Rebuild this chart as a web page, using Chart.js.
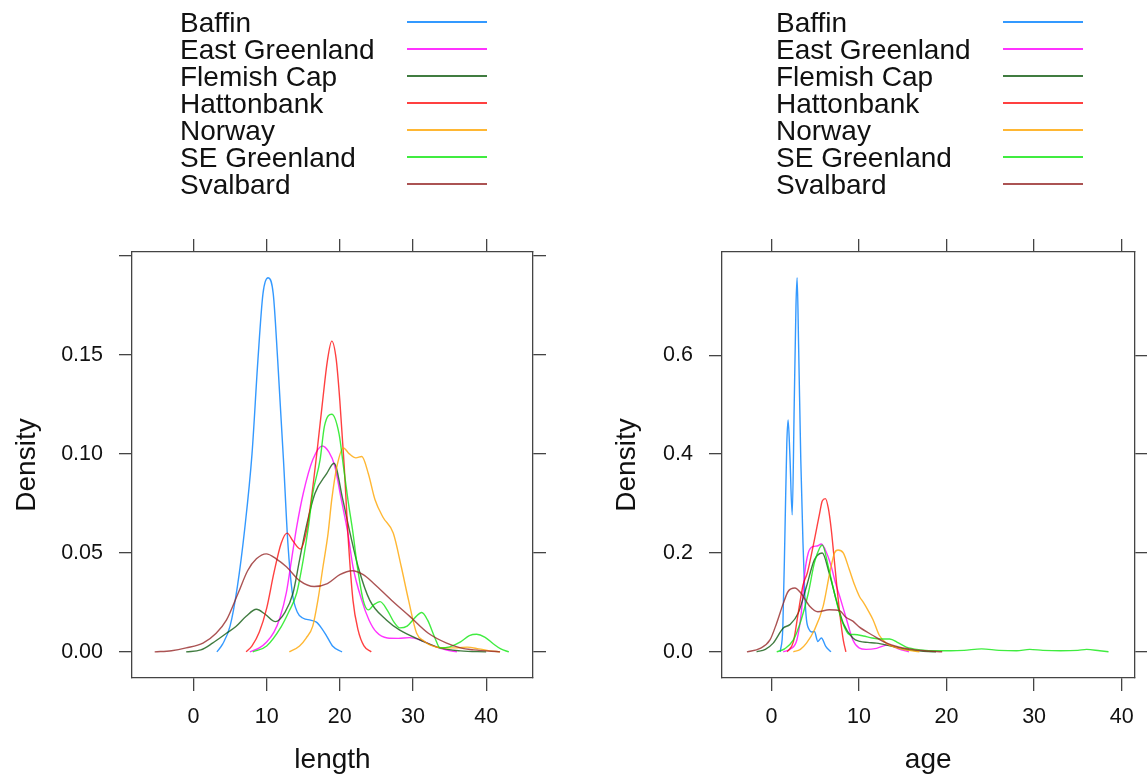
<!DOCTYPE html>
<html>
<head>
<meta charset="utf-8">
<title>Density by region</title>
<script src="https://cdn.jsdelivr.net/npm/chart.js@4/dist/chart.umd.min.js"></script>
<style>
    html, body { margin: 0; padding: 0; background: #fff; }
    #wrap { position: relative; width: 1147px; height: 780px; overflow: hidden; }
    canvas { position: absolute; top: 0; }
    .legend { position: absolute; font-family: "Liberation Sans", Arial, Helvetica, sans-serif; font-size: 28px; color: #111; }
    .legend .row { position: absolute; left: 0; height: 27px; line-height: 27px; white-space: nowrap; }
    .legend .key { position: absolute; width: 80px; height: 1.5px; }
</style>
</head>
<body>
<div id="wrap">
    <canvas id="lengthChart" width="573" height="780" style="left:0"></canvas>
    <canvas id="ageChart" width="574" height="780" style="left:573px"></canvas>
    <div class="legend" id="lengthLegend" style="left:180px;top:9px"></div>
    <div class="legend" id="ageLegend" style="left:776px;top:9px"></div>
</div>
<script>
// ====== series ======
var seriesNames = ['Baffin', 'East Greenland', 'Flemish Cap', 'Hattonbank', 'Norway', 'SE Greenland', 'Svalbard'];
var seriesColors = ['rgba(0,128,255,0.8)', 'rgba(255,0,255,0.8)', 'rgba(0,80,0,0.75)', 'rgba(255,0,0,0.75)',
    'rgba(255,165,0,0.8)', 'rgba(0,230,0,0.75)', 'rgba(150,40,40,0.8)'];

// ====== length densities ======
var lenBaffinX = [3.2, 4, 5, 6, 7, 8, 8.8, 9.5, 10.2, 10.9, 11.5, 12.3, 12.9, 13.5, 14.2, 15, 16, 16.8, 17.5, 18.2, 19, 20.3];
var lenBaffinY = [0, 0.004, 0.013, 0.033, 0.062, 0.1, 0.147, 0.181, 0.189, 0.181, 0.148, 0.097, 0.055, 0.03, 0.02, 0.017, 0.016, 0.015, 0.012, 0.008, 0.003, 0];
var lenEastX = [7.7, 9, 10, 11, 11.8, 12.7, 13.4, 14.1, 15, 16.3, 17.6, 18.5, 19.3, 20.2, 21.1, 21.8, 23, 24, 25, 26.5, 28, 29.5, 31, 32.8, 34.5, 36];
var lenEastY = [0, 0.002, 0.005, 0.01, 0.017, 0.03, 0.0465, 0.063, 0.08, 0.097, 0.104, 0.101, 0.094, 0.077, 0.06, 0.043, 0.026, 0.016, 0.01, 0.007, 0.0068, 0.0072, 0.006, 0.003, 0.001, 0];
var lenFlemishX = [-1, 1, 2.6, 4.5, 5.8, 7.2, 8.6, 9.8, 11.2, 12.5, 13.6, 14.5, 15.4, 16.6, 18.2, 19.2, 20.4, 21.4, 22.5, 24.1, 26.4, 28.2, 31, 33.7, 36.5, 40];
var lenFlemishY = [0, 0.001, 0.0044, 0.0094, 0.0128, 0.018, 0.0215, 0.019, 0.0153, 0.02, 0.0296, 0.0465, 0.063, 0.08, 0.09, 0.0953, 0.077, 0.06, 0.043, 0.026, 0.016, 0.011, 0.006, 0.002, 0.0005, 0];
var lenHattonX = [7.2, 8, 9, 10, 11, 12, 12.8, 13.6, 14.6, 15.5, 16.2, 17, 17.6, 18.3, 18.9, 19.5, 20, 20.6, 21.1, 21.8, 22.5, 23.3, 24.3];
var lenHattonY = [0, 0.003, 0.01, 0.022, 0.04, 0.055, 0.06, 0.056, 0.052, 0.062, 0.08, 0.105, 0.125, 0.147, 0.157, 0.148, 0.127, 0.094, 0.06, 0.026, 0.011, 0.003, 0];
var lenNorwayX = [13.1, 14.5, 15.4, 16.3, 17, 17.7, 18.4, 18.9, 19.6, 20.5, 21.3, 22.2, 23, 23.9, 24.8, 25.9, 27.3, 28.4, 29.4, 30.5, 31.5, 32.3, 34, 36, 37.4, 39, 40.5, 41.9];
var lenNorwayY = [0, 0.003, 0.007, 0.013, 0.026, 0.043, 0.06, 0.077, 0.0936, 0.103, 0.1, 0.098, 0.0987, 0.09, 0.077, 0.068, 0.06, 0.043, 0.026, 0.0094, 0.0055, 0.0035, 0.002, 0.002, 0.0024, 0.0015, 0.0005, 0];
var lenSEX = [8.1, 10, 12, 13, 14.1, 15, 15.7, 16.3, 17.3, 17.9, 18.9, 19.9, 20.5, 21.1, 21.8, 22.4, 23.2, 23.9, 24.7, 25.5, 26.5, 27.4, 28.2, 29.2, 30.2, 31.2, 32, 33, 33.7, 35, 36.5, 37.7, 38.7, 39.8, 41, 42, 43.1];
var lenSEY = [0, 0.003, 0.0128, 0.02, 0.0296, 0.0465, 0.063, 0.08, 0.097, 0.114, 0.12, 0.11, 0.0936, 0.077, 0.06, 0.043, 0.026, 0.0212, 0.024, 0.0254, 0.021, 0.015, 0.0121, 0.013, 0.017, 0.0199, 0.016, 0.007, 0.002, 0.0025, 0.005, 0.0082, 0.0089, 0.0075, 0.004, 0.0015, 0];
var lenSvalbardX = [-5.3, -3, -1, 1.3, 3.1, 4.5, 6.1, 7.4, 8.6, 9.95, 11.3, 12.7, 14.5, 16.5, 18.3, 20, 21.7, 23.2, 24.6, 27.1, 29.6, 32.1, 34.6, 36.5, 38.3, 41.9];
var lenSvalbardY = [0, 0.0006, 0.002, 0.0044, 0.0094, 0.016, 0.0296, 0.041, 0.047, 0.0495, 0.047, 0.043, 0.036, 0.033, 0.0345, 0.039, 0.041, 0.039, 0.0347, 0.026, 0.0178, 0.0094, 0.0044, 0.002, 0.001, 0];

// ====== age densities ======
var ageBaffinX = [1.0, 1.3, 1.55, 1.75, 1.9, 2.1, 2.37, 2.6, 2.8, 2.93, 3.1, 3.35, 3.6, 3.8, 4.0, 4.3, 4.6, 4.9, 5.3, 5.7, 6.2, 6.8];
var ageBaffinY = [0, 0.05, 0.25, 0.42, 0.469, 0.4, 0.277, 0.5, 0.7, 0.757, 0.62, 0.388, 0.22, 0.118, 0.065, 0.045, 0.04, 0.041, 0.021, 0.028, 0.011, 0];
var ageEastX = [1.35, 2.2, 2.9, 3.4, 3.8, 4.2, 4.75, 5.2, 5.7, 6.3, 6.84, 7.3, 7.8, 8.5, 9.3, 10, 10.8, 12, 13.3, 14.5, 15.7];
var ageEastY = [0, 0.006, 0.024, 0.078, 0.159, 0.2, 0.213, 0.214, 0.218, 0.2, 0.172, 0.14, 0.112, 0.07, 0.024, 0.008, 0.005, 0.007, 0.014, 0.006, 0];
var ageFlemishX = [-1.7, -0.7, 0.2, 1.35, 2.1, 3.05, 4.0, 4.9, 5.8, 6.6, 7.4, 8.2, 9.3, 10.1, 11, 12, 13.8, 16.1, 18.8];
var ageFlemishY = [0, 0.005, 0.0175, 0.048, 0.055, 0.078, 0.132, 0.186, 0.2, 0.159, 0.105, 0.058, 0.028, 0.021, 0.019, 0.0175, 0.011, 0.003, 0];
var ageHattonX = [1.8, 2.5, 3.05, 3.6, 4.1, 4.6, 5.0, 5.5, 5.8, 6.16, 6.5, 6.84, 7.1, 7.4, 7.8, 8.2, 8.5];
var ageHattonY = [0, 0.02, 0.078, 0.135, 0.16, 0.2, 0.235, 0.28, 0.305, 0.31, 0.29, 0.246, 0.2, 0.145, 0.078, 0.024, 0];
var ageNorwayX = [2.5, 3.3, 4.0, 4.9, 5.9, 6.65, 7.2, 7.6, 8.2, 8.9, 9.5, 10.05, 10.5, 11.0, 11.6, 12.3, 13.1, 14, 15, 16.9];
var ageNorwayY = [0, 0.005, 0.0175, 0.044, 0.092, 0.159, 0.2, 0.206, 0.2, 0.166, 0.135, 0.112, 0.1, 0.085, 0.065, 0.034, 0.0175, 0.01, 0.005, 0];
var ageSEX = [0.6, 1.5, 2.5, 3.4, 4.2, 4.9, 5.5, 5.8, 6.5, 7.2, 8.0, 8.9, 9.5, 10.5, 11.5, 12.5, 13.5, 14.5, 15.4, 17, 19, 20.5, 22, 24, 26, 28, 29.5, 31, 33, 35, 36, 37.5, 38.5];
var ageSEY = [0, 0.006, 0.024, 0.065, 0.118, 0.18, 0.21, 0.216, 0.172, 0.118, 0.065, 0.035, 0.035, 0.032, 0.028, 0.026, 0.026, 0.018, 0.0094, 0.004, 0.002, 0.002, 0.003, 0.006, 0.003, 0.002, 0.005, 0.003, 0.002, 0.003, 0.005, 0.002, 0];
var ageSvalbardX = [-2.8, -1.3, -0.17, 0.59, 1.35, 1.9, 2.67, 3.4, 4.37, 5.3, 6.6, 7.8, 8.5, 9.3, 10.05, 11.6, 13.1, 14.5, 15.7, 17.5, 19.5];
var ageSvalbardY = [0, 0.007, 0.024, 0.058, 0.098, 0.122, 0.129, 0.118, 0.092, 0.081, 0.085, 0.083, 0.07, 0.062, 0.05, 0.033, 0.018, 0.01, 0.006, 0.002, 0];

// ====== axes ======
var lengthRange = [-8.4, 46.4];
var lengthTicks = [0, 10, 20, 30, 40];
var lengthDensityRange = [-0.0132, 0.202];
var lengthDensityTicks = [0, 0.05, 0.10, 0.15, 0.20];
var lengthDensityLabels = ['0.00', '0.05', '0.10', '0.15', ''];

var ageRange = [-5.65, 41.45];
var ageTicks = [0, 10, 20, 30, 40];
var ageDensityRange = [-0.053, 0.809];
var ageDensityTicks = [0, 0.2, 0.4, 0.6];
var ageDensityLabels = ['0.0', '0.2', '0.4', '0.6'];

var FONT = '"Liberation Sans", Arial, Helvetica, sans-serif';
var AXIS_COLOR = '#444';

function makeDatasets(xs, ys) {
    return seriesNames.map(function(name, i) {
        return {
            label: name,
            data: xs[i].map(function(x, j) { return { x: x, y: ys[i][j] }; }),
            borderColor: seriesColors[i],
            borderWidth: 1.4,
            pointRadius: 0,
            fill: false,
            cubicInterpolationMode: 'monotone',
            order: seriesNames.length - i
        };
    });
}

// one side of the lattice-style box: ticks outside, optional labels
function makeAxis(pos, range, ticks, labels, size, title, titlePad) {
    return {
        type: 'linear',
        position: pos,
        min: range[0],
        max: range[1],
        afterBuildTicks: function(axis) {
            axis.ticks = ticks.map(function(v) { return { value: v }; });
        },
        afterFit: function(axis) {
            if (pos === 'left' || pos === 'right') axis.width = size;
            else axis.height = size;
        },
        grid: { drawOnChartArea: false, drawTicks: true, tickLength: 13, color: AXIS_COLOR, tickColor: AXIS_COLOR, lineWidth: 1.3 },
        border: { display: true, color: AXIS_COLOR, width: 1.3 },
        ticks: {
            autoSkip: false,
            maxRotation: 0,
            minRotation: 0,
            padding: (pos === 'left') ? 16 : 13,
            color: '#111',
            font: { family: FONT, size: 21.5 },
            callback: function(value) {
                if (!labels) return '';
                var k = ticks.indexOf(value);
                return k >= 0 ? labels[k] : '';
            }
        },
        title: title ? {
            display: true,
            text: title,
            color: '#111',
            font: { family: FONT, size: 28 },
            padding: titlePad
        } : { display: false }
    };
}

function makeChart(id, datasets, xr, xt, yr, yt, yl, xTitle, leftW, rightW, padRight, densityPad) {
    var ctx = document.getElementById(id).getContext('2d');
    return new Chart(ctx, {
        type: 'line',
        data: { datasets: datasets },
        options: {
            responsive: false,
            animation: false,
            layout: { padding: { left: 0, top: 239, right: padRight, bottom: 0 } },
            plugins: { legend: { display: false }, tooltip: { enabled: false } },
            scales: {
                x: makeAxis('bottom', xr, xt, xt.map(String), 102, xTitle, { top: 0, bottom: 3 }),
                x2: makeAxis('top', xr, xt, null, 13),
                y: makeAxis('left', yr, yt, yl, leftW, 'Density', { top: densityPad, bottom: 0 }),
                y2: makeAxis('right', yr, yt, null, rightW)
            }
        }
    });
}

makeChart('lengthChart',
    makeDatasets([lenBaffinX, lenEastX, lenFlemishX, lenHattonX, lenNorwayX, lenSEX, lenSvalbardX],
                 [lenBaffinY, lenEastY, lenFlemishY, lenHattonY, lenNorwayY, lenSEY, lenSvalbardY]),
    lengthRange, lengthTicks, lengthDensityRange, lengthDensityTicks, lengthDensityLabels,
    'length', 132, 13, 27, 10);

makeChart('ageChart',
    makeDatasets([ageBaffinX, ageEastX, ageFlemishX, ageHattonX, ageNorwayX, ageSEX, ageSvalbardX],
                 [ageBaffinY, ageEastY, ageFlemishY, ageHattonY, ageNorwayY, ageSEY, ageSvalbardY]),
    ageRange, ageTicks, ageDensityRange, ageDensityTicks, ageDensityLabels,
    'age', 149, 12, 0, 37);

// ====== legends (text then line key, like lattice) ======
function buildLegend(id) {
    var box = document.getElementById(id);
    seriesNames.forEach(function(name, i) {
        var row = document.createElement('div');
        row.className = 'row';
        row.style.top = (i * 27) + 'px';
        row.textContent = name;
        var key = document.createElement('span');
        key.className = 'key';
        key.style.left = '227px';
        key.style.top = '12px';
        key.style.background = seriesColors[i];
        row.appendChild(key);
        box.appendChild(row);
    });
}
buildLegend('lengthLegend');
buildLegend('ageLegend');
</script>
</body>
</html>
